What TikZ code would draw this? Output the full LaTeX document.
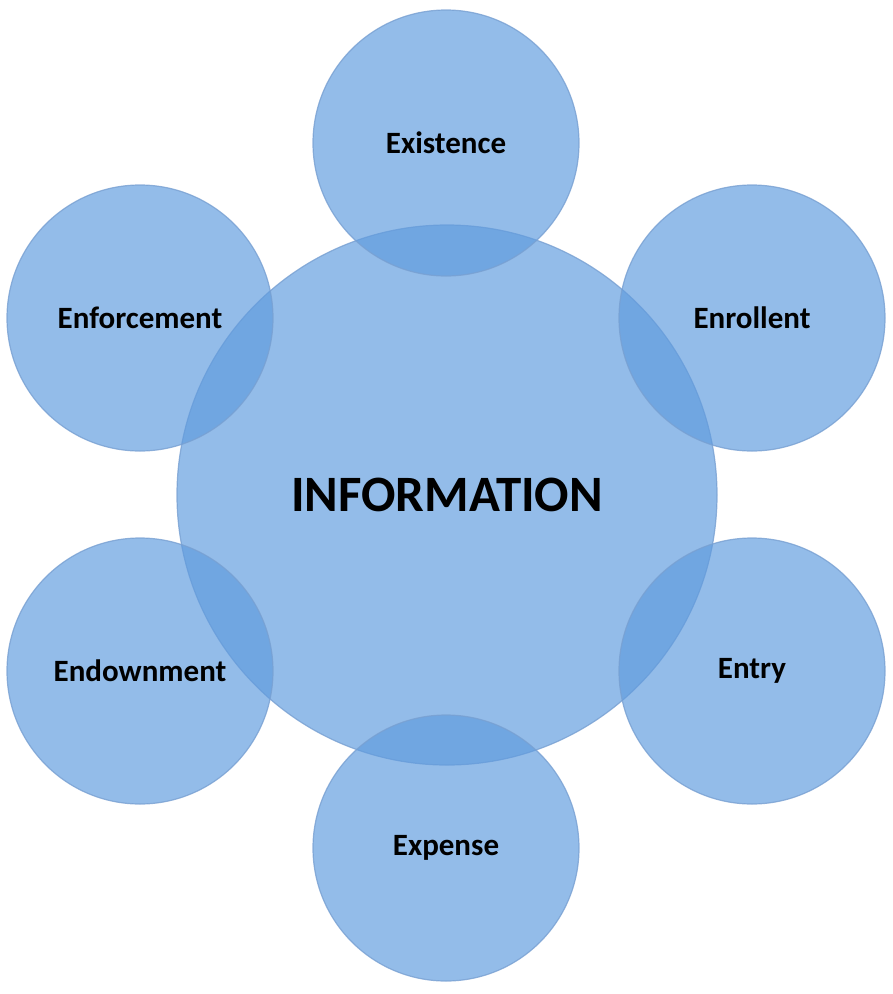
\documentclass[tikz,border=0pt]{standalone}
\usepackage{fontspec}
\setmainfont{Carlito}
\usepackage{xcolor}
\usetikzlibrary{positioning}
\definecolor{infofill}{RGB}{96,156,222}
\definecolor{inforim}{RGB}{120,160,210}
\tikzset{
  info bubble/.style={
    circle,
    fill=infofill,
    fill opacity=0.68,
    text opacity=1,
    draw=inforim,
    draw opacity=0.8,
    line width=1.2pt,
    inner sep=0pt,
    font=\bfseries,
  },
  info hub/.style={
    info bubble,
    minimum size=540pt,
    font=\fontsize{51}{55}\selectfont\bfseries,
  },
  info item/.style={
    info bubble,
    minimum size=266pt,
    font=\fontsize{31}{35}\selectfont\bfseries,
  },
}

\begin{document}
\begin{tikzpicture}[x=1pt,y=1pt]
  \useasboundingbox (0,0) rectangle (893,-994);
  \node[info hub] (info) at (447,-495) {INFORMATION};
  \node[info item] (exist) at (446,-143) {Existence};
  \node[info item] (enforce) at (140,-318) {Enforcement};
  \node[info item] (enroll) at (752,-318) {Enrollent};
  \node[info item] (endow) at (140,-671) {Endownment};
  \node[info item] (entry) at (752,-671) {Entry};
  \node[info item] (expense) at (446,-848) {Expense};
\end{tikzpicture}
\end{document}
